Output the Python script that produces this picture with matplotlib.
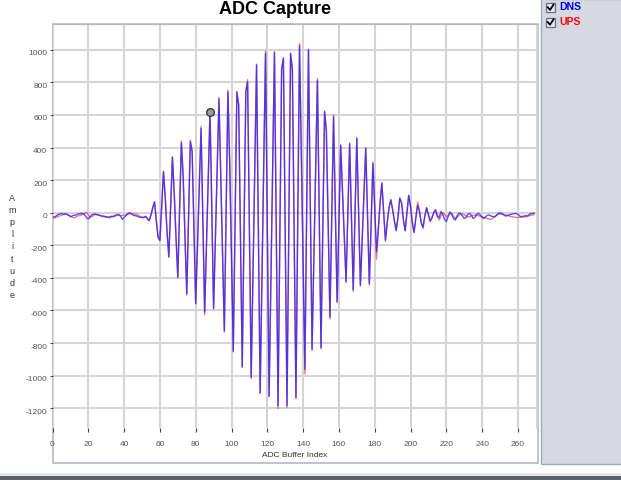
import matplotlib
matplotlib.use('Agg')
import matplotlib.pyplot as plt
from matplotlib.patches import Rectangle
from matplotlib.lines import Line2D
from matplotlib.transforms import ScaledTranslation

plt.rcParams['font.family'] = ['Liberation Sans', 'DejaVu Sans']
plt.rcParams['axes.unicode_minus'] = False

# ADC capture, two channels, one value per buffer index (0..269)
dns = [
    -24, -28, -20, -12, -8, -4, -9, -6, -10, -15,
    -24, -20, -16, -14, -9, -6, -4, -6, -15, -30,
    -39, -25, -12, -10, -8, -13, -14, -18, -20, -22,
    -24, -27, -25, -22, -24, -20, -14, -10, -20, -41,
    -30, -18, -6, 0, -8, -14, -18, -20, -24, -29,
    -26, -30, -22, -35, -50, -15, 30, 66, -50, -150,
    -169, 40, 251, 90, -120, -270, 35, 339, 120, -150,
    -395, 20, 429, 220, -150, -499, -30, 435, 375, -90,
    -556, -200, 170, 517, -50, -611, -200, 210, 620, 20,
    -587, -160, 270, 697, 230, -250, -726, 10, 742, 300,
    -280, -849, -50, 740, 660, -150, -945, -100, 740, 802,
    -100, -1010, -380, 280, 906, -100, -1104, -420, 290, 978,
    -80, -1125, -440, 280, 984, -100, -1184, -150, 880, 947,
    -120, -1184, -100, 976, 880, -130, -1135, -60, 1025, 360,
    -300, -961, 20, 998, 80, -838, -280, 260, 810, -10,
    -828, -100, 620, 500, -70, -640, -30, 589, 20, -546,
    -70, 413, 130, -150, -423, 0, 423, -25, -474, -10,
    456, 5, -444, -160, 120, 395, -20, -434, -65, 303,
    30, -240, -100, 60, 180, 5, -168, -60, 30, 78,
    20, -50, -107, -30, 88, 60, -40, -110, 0, 106,
    40, -60, -120, -30, 47, 10, -60, -90, -20, 30,
    -10, -50, -30, 0, 15, -25, -30, 8, -10, -40,
    -55, -25, 5, -10, -35, -45, -20, -2, -5, -20,
    -35, -30, -10, -4, -15, -35, -28, -10, -4, -15,
    -28, -35, -25, -16, -14, -20, -24, -25, -15, -5,
    0, -4, -12, -20, -18, -14, -10, -8, -5, -4,
    -10, -20, -25, -22, -18, -20, -14, -6, -4, -2,
]

ups = [
    -30, -32, -27, -24, -20, -16, -12, -10, -10, -15,
    -22, -28, -31, -27, -20, -16, -14, -10, -4, 2,
    -12, -29, -24, -16, -10, -12, -16, -20, -24, -26,
    -28, -30, -31, -26, -20, -14, -14, -16, -18, -16,
    -15, -14, -10, -6, -4, -6, -8, -10, -16, -24,
    -31, -28, -24, -36, -48, -12, 32, 68, -48, -152,
    -172, 42, 255, 92, -122, -274, 36, 344, 124, -152,
    -400, 22, 440, 226, -152, -505, -28, 445, 380, -92,
    -560, -202, 175, 532, -52, -626, -202, 214, 630, 22,
    -590, -162, 274, 708, 234, -254, -732, 12, 752, 304,
    -282, -854, -50, 744, 664, -152, -950, -100, 748, 816,
    -102, -1016, -384, 284, 912, -102, -1110, -424, 294, 992,
    -80, -1130, -444, 282, 988, -102, -1202, -152, 884, 952,
    -122, -1196, -100, 980, 884, -132, -1140, -60, 1038, 364,
    -305, -990, 20, 1004, 82, -845, -282, 264, 824, -12,
    -834, -100, 626, 506, -72, -652, -30, 600, 22, -552,
    -72, 418, 132, -152, -428, 0, 428, -26, -480, -12,
    462, 5, -450, -162, 122, 400, -22, -445, -66, 310,
    30, -286, -110, 62, 185, 6, -175, -62, 32, 82,
    20, -52, -112, -30, 92, 62, -42, -112, 0, 108,
    42, -62, -122, -28, 65, 12, -62, -96, -22, 32,
    -15, -55, -35, 5, 20, -10, -45, -20, 0, -10,
    -25, -15, -5, -4, -20, -35, -30, -18, -10, -8,
    -12, -20, -25, -25, -20, -16, -14, -14, -18, -22,
    -25, -28, -32, -36, -40, -40, -34, -26, -18, -10,
    -8, -10, -12, -14, -16, -20, -24, -25, -27, -29,
    -29, -29, -27, -26, -25, -24, -20, -16, -14, -12,
]

idx = list(range(len(dns)))
x_ticks = list(range(0, 261, 20))
y_ticks = list(range(-1200, 1001, 200))
marker_idx = 88

W, H = 621, 480
fig = plt.figure(figsize=(W / 100, H / 100), dpi=100)

# background layer in pixel coords: frame, side panel, bottom bar
bg = fig.add_axes([0, 0, 1, 1], zorder=0)
bg.set_xlim(0, W)
bg.set_ylim(H, 0)
bg.axis('off')
bg.add_patch(Rectangle((541, -1), 81, 465, fc='#d6d9e1', ec='#a3a8b3', lw=1))
bg.add_patch(Rectangle((53, 24), 485, 439, fc='white', ec='#b4b7bf', lw=1.2))
bg.add_patch(Rectangle((0, 473), W, 3, fc='#e6e8ec', ec='none'))
bg.add_patch(Rectangle((0, 476), W, 5, fc='#5b606c', ec='none'))

# legend check boxes
for yy, name, col in [(2.7, 'DNS', '#0000ee'), (17.5, 'UPS', '#ff0000')]:
    bg.add_patch(Rectangle((546, yy), 9, 9, fc='#e9ebf1', ec='#66707f', lw=0.9))
    bg.add_line(Line2D([547.8, 550, 553.6], [yy + 4.6, yy + 7.2, yy + 1.8],
                       color='black', lw=1.3))
    bg.text(559, yy + 4.3, name, color=col, fontsize=7.5, fontweight='bold',
            va='center', ha='left')

# main plot
x_left, x_right = 52.5, 536.7
y_top, y_bot = 24, 428
ax = fig.add_axes([x_left / W, 1 - y_bot / H, (x_right - x_left) / W, (y_bot - y_top) / H],
                  zorder=1)
ax.set_facecolor('none')
ax.plot(idx, ups, color='#ff2a2a', lw=1.0, alpha=0.65, zorder=3)
ax.plot(idx, dns, color='#2626ff', lw=1.0, alpha=0.8, zorder=4)
ax.plot([marker_idx], [dns[marker_idx]], 'o', ms=5.5, mfc='#9c9c9c', mec='#3c3c3c',
        mew=1.0, zorder=5)

ax.set_xlim(0, 270.5)
ax.set_ylim(-1321, 1158)
ax.set_xticks(x_ticks)
ax.set_yticks(y_ticks)
ax.grid(True, color='#d5d5d5', lw=1.5, zorder=0)
ax.set_axisbelow(True)
for s in ['left', 'bottom']:
    ax.spines[s].set_visible(False)
ax.spines['top'].set_color('#b4b7bf')
ax.spines['right'].set_color('#d5d5d5')
ax.spines['right'].set_linewidth(1.5)
ax.tick_params(axis='x', length=3, width=0.8, color='#444444', pad=6,
               labelsize=6, labelcolor='#555555')
ax.tick_params(axis='y', length=2.2, width=0.8, color='#444444', pad=1.5,
               labelsize=6, labelcolor='#555555')
shift = ScaledTranslation(0, -3 / 100, fig.dpi_scale_trans)
for lab in ax.get_yticklabels():
    lab.set_transform(lab.get_transform() + shift)
ax.set_xlabel('ADC Buffer Index', fontsize=6, color='#333333', labelpad=3.5)

fig.text(12 / W, 1 - 247 / H, '\n'.join('Amplitude'), ha='center', va='center',
         fontsize=6.5, color='#333333', linespacing=1.45)
fig.text(275 / W, 1 - 9.5 / H, 'ADC Capture', ha='center', va='center',
         fontsize=13, fontweight='bold', color='black')

fig.savefig('out.png', dpi=100)
